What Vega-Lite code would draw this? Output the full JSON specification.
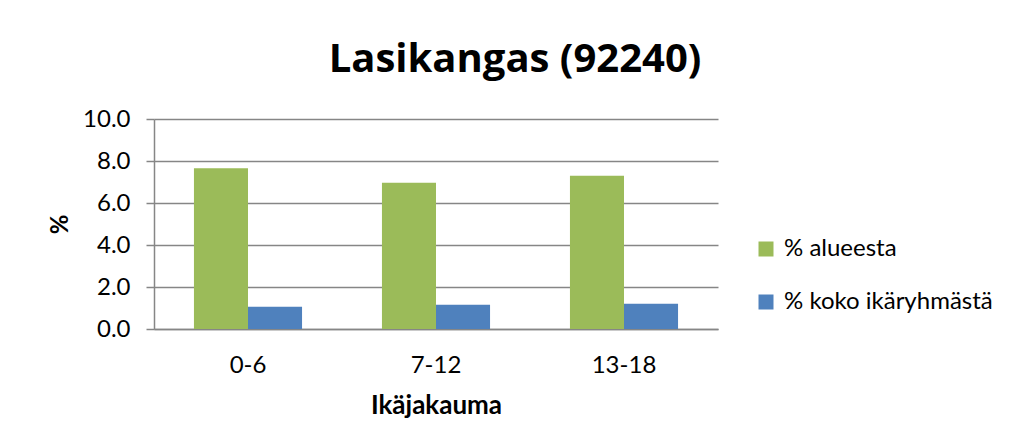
{
  "$schema": "https://vega.github.io/schema/vega-lite/v6.json",
  "width": 564,
  "height": 210,
  "autosize": "none",
  "padding": {"left": 154, "top": 119, "right": 293, "bottom": 118},
  "background": "white",
  "title": {
    "text": "Lasikangas (92240)",
    "font": "Open Sans",
    "fontSize": 40,
    "fontWeight": "bold",
    "color": "#000000",
    "anchor": "middle",
    "frame": "group",
    "dx": 79,
    "offset": 27
  },
  "data": {
    "values": [
      {"age": "0-6", "series": "% alueesta", "value": 7.65},
      {"age": "0-6", "series": "% koko ikäryhmästä", "value": 1.06},
      {"age": "7-12", "series": "% alueesta", "value": 6.97},
      {"age": "7-12", "series": "% koko ikäryhmästä", "value": 1.16},
      {"age": "13-18", "series": "% alueesta", "value": 7.3},
      {"age": "13-18", "series": "% koko ikäryhmästä", "value": 1.2}
    ]
  },
  "mark": {"type": "bar"},
  "encoding": {
    "x": {
      "field": "age",
      "type": "nominal",
      "sort": ["0-6", "7-12", "13-18"],
      "scale": {"paddingInner": 0.425, "paddingOuter": 0.2125},
      "axis": {
        "title": "Ikäjakauma",
        "titleFont": "Lato",
        "titleFontSize": 26,
        "titleFontWeight": "bold",
        "titleColor": "#000000",
        "titlePadding": 15,
        "labelAngle": 0,
        "labelFont": "Lato",
        "labelFontSize": 24,
        "labelColor": "#000000",
        "labelPadding": 24,
        "ticks": false,
        "domainColor": "#868686",
        "domainWidth": 1.5
      }
    },
    "xOffset": {"field": "series", "type": "nominal", "sort": ["% alueesta", "% koko ikäryhmästä"]},
    "y": {
      "field": "value",
      "type": "quantitative",
      "scale": {"domain": [0, 10], "nice": false},
      "axis": {
        "values": [0, 2, 4, 6, 8, 10],
        "format": ".1f",
        "title": "%",
        "titleFont": "Lato",
        "titleFontSize": 24,
        "titleFontWeight": "bold",
        "titleColor": "#000000",
        "titleAngle": -90,
        "titleX": -94,
        "titleY": 105,
        "titleAlign": "center",
        "titleBaseline": "middle",
        "labelFont": "Lato",
        "labelFontSize": 24,
        "labelColor": "#000000",
        "labelPadding": 16,
        "tickSize": 8,
        "tickColor": "#868686",
        "tickWidth": 1.5,
        "domainColor": "#868686",
        "domainWidth": 1.5,
        "grid": true,
        "gridColor": "#868686",
        "gridWidth": 1.5
      }
    },
    "color": {
      "field": "series",
      "type": "nominal",
      "scale": {"domain": ["% alueesta", "% koko ikäryhmästä"], "range": ["#9BBB59", "#4F81BD"]},
      "legend": {
        "title": null,
        "orient": "none",
        "legendX": 600,
        "legendY": 118,
        "symbolType": "square",
        "symbolSize": 225,
        "symbolStrokeWidth": 0,
        "labelFont": "Lato",
        "labelFontSize": 24,
        "labelColor": "#000000",
        "labelOffset": 6,
        "rowPadding": 29,
        "labelLimit": 300
      }
    }
  },
  "config": {"view": {"stroke": null}}
}
